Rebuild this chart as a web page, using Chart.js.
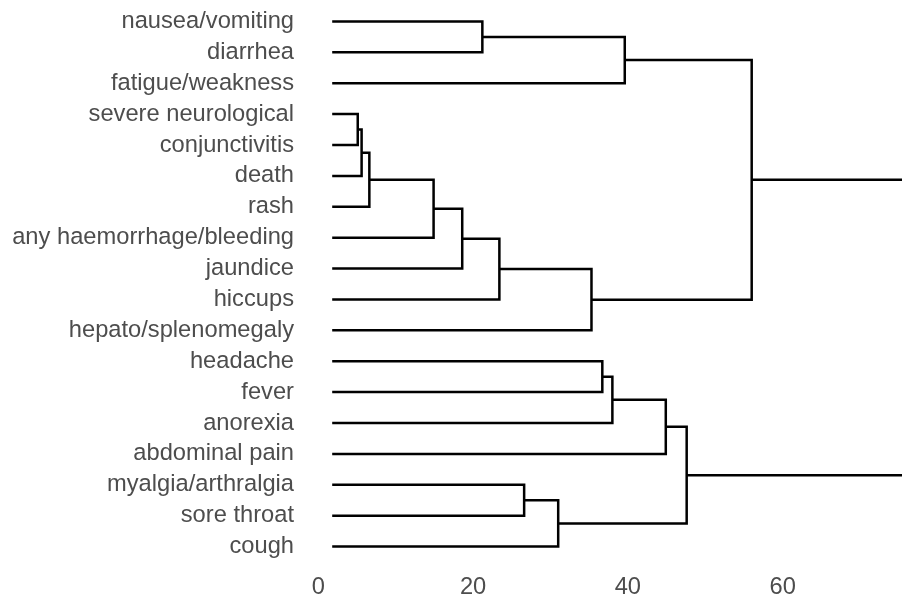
<!DOCTYPE html>
<html>
<head>
<meta charset="utf-8">
<script src="https://cdn.jsdelivr.net/npm/chart.js@4/dist/chart.umd.min.js"></script>
<style>
  html, body { margin: 0; padding: 0; background: #fff; }
  #wrap { width: 902px; height: 603px; position: relative; }
</style>
</head>
<body>
<div id="wrap"><canvas id="dendro"></canvas></div>
<script>
// leaves, top to bottom
const leaves = [
  'nausea/vomiting', 'diarrhea', 'fatigue/weakness', 'severe neurological',
  'conjunctivitis', 'death', 'rash', 'any haemorrhage/bleeding', 'jaundice',
  'hiccups', 'hepato/splenomegaly', 'headache', 'fever', 'anorexia',
  'abdominal pain', 'myalgia/arthralgia', 'sore throat', 'cough'
];
const leafHeight = 1.8;

// merges, hclust style: negative = leaf number, positive = earlier merge
const mergeA = [-1, 1, -4, 3, 4, 5, 6, 7, 8, 2, -12, 11, 12, -16, 14, 13, 10];
const mergeB = [-2, -3, -5, -6, -7, -8, -9, -10, -11, 9, -13, -14, -15, -17, -18, 15, 16];
const mergeHeight = [21.2, 39.6, 5.1, 5.6, 6.6, 14.9, 18.6, 23.4, 35.3, 56.0,
                     36.7, 38.0, 44.9, 26.6, 31.0, 47.6, 85];

const xTicks = [0, 20, 40, 60];

const nodeY = [], nodeH = [];
function child(ref) {
  if (ref < 0) return { y: -ref, h: leafHeight };
  return { y: nodeY[ref - 1], h: nodeH[ref - 1] };
}

const datasets = [];
mergeA.forEach((a, i) => {
  const ca = child(a), cb = child(mergeB[i]);
  const h = mergeHeight[i];
  nodeY.push((ca.y + cb.y) / 2);
  nodeH.push(h);
  datasets.push({
    data: [{ x: ca.h, y: ca.y }, { x: h, y: ca.y }, { x: h, y: cb.y }, { x: cb.h, y: cb.y }],
    showLine: true,
    borderColor: '#000',
    borderWidth: 2.5,
    pointRadius: 0,
    fill: false,
    tension: 0
  });
});

const font = { family: "'Liberation Sans', Arial, Helvetica, sans-serif", size: 23.7 };

function noPad(s) {
  s.paddingTop = 0; s.paddingBottom = 0; s.paddingLeft = 0; s.paddingRight = 0;
}

new Chart(document.getElementById('dendro').getContext('2d'), {
  type: 'scatter',
  data: { datasets: datasets },
  options: {
    responsive: true,
    maintainAspectRatio: false,
    animation: false,
    layout: { padding: { top: 6, right: 0, bottom: 0, left: 0 } },
    plugins: { legend: { display: false }, tooltip: { enabled: false } },
    scales: {
      x: {
        type: 'linear',
        min: -2.36,
        max: 75.42,
        grid: { display: false, drawTicks: false },
        border: { display: false },
        ticks: { color: '#4d4d4d', font: font, padding: 11, autoSkip: false, maxRotation: 0 },
        afterBuildTicks: s => { s.ticks = xTicks.map(v => ({ value: v })); },
        afterFit: s => { s.height = 41; noPad(s); }
      },
      y: {
        type: 'linear',
        reverse: true,
        min: 0.5,
        max: 18.5,
        grid: { display: false, drawTicks: false },
        border: { display: false },
        ticks: {
          color: '#4d4d4d', font: font, padding: 6, autoSkip: false,
          callback: v => leaves[v - 1]
        },
        afterBuildTicks: s => { s.ticks = leaves.map((l, i) => ({ value: i + 1 })); },
        afterFit: s => { s.width = 300; noPad(s); }
      }
    }
  }
});
</script>
</body>
</html>
